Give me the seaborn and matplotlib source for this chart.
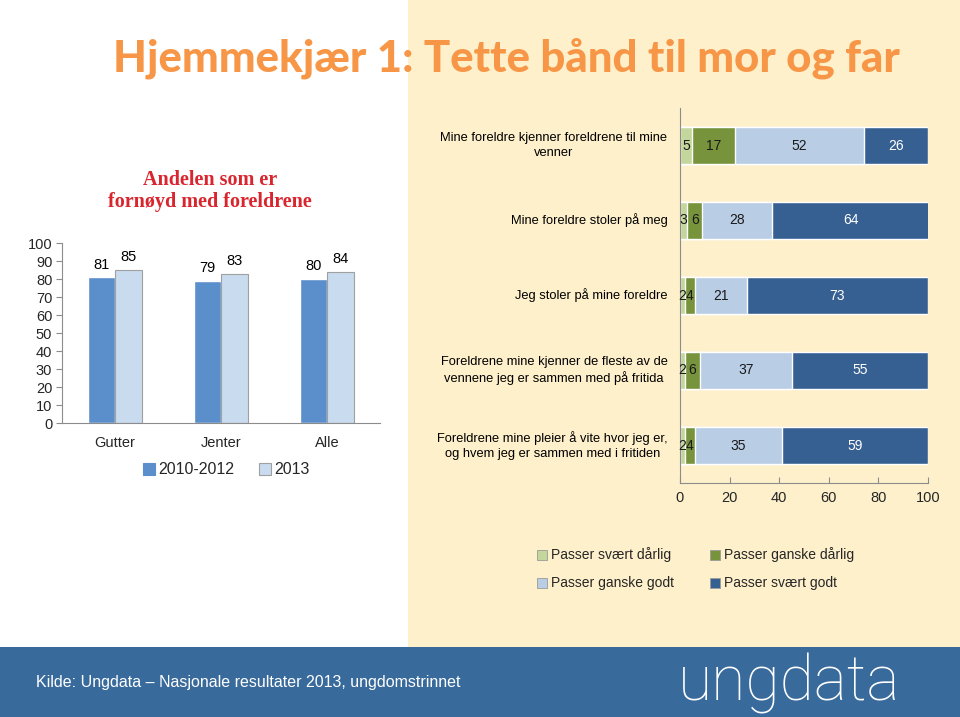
import matplotlib
matplotlib.use('Agg')
import matplotlib.pyplot as plt
import seaborn as sns
import pandas as pd
import numpy as np
from matplotlib.patches import Rectangle
from matplotlib.lines import Line2D

# ---- data ----
groups = ['Gutter', 'Jenter', 'Alle']
periods = ['2010-2012', '2013']
satisfied_2010_2012 = [81, 79, 80]
satisfied_2013 = [85, 83, 84]

statements = [
    'Mine foreldre kjenner foreldrene til mine\nvenner',
    'Mine foreldre stoler på meg',
    'Jeg stoler på mine foreldre',
    'Foreldrene mine kjenner de fleste av de\nvennene jeg er sammen med på fritida',
    'Foreldrene mine pleier å vite hvor jeg er,\nog hvem jeg er sammen med i fritiden',
]
responses = ['Passer svært dårlig', 'Passer ganske dårlig', 'Passer ganske godt', 'Passer svært godt']
svaert_darlig = [5, 3, 2, 2, 2]
ganske_darlig = [17, 6, 4, 6, 4]
ganske_godt = [52, 28, 21, 37, 35]
svaert_godt = [26, 64, 73, 55, 59]
x_ticks_right = [0, 20, 40, 60, 80, 100]
y_ticks_left = list(range(0, 101, 10))

# ---- style ----
sns.set_style('white')
plt.rcParams['font.family'] = ['Liberation Sans', 'DejaVu Sans']

W, H = 960, 717
fig = plt.figure(figsize=(9.6, 7.17), dpi=100)
fig.patch.set_facecolor('white')

CREAM = '#FEF0CB'
FOOT = '#386A9C'
fig.add_artist(Rectangle((408 / W, 70 / H), 1 - 408 / W, 1 - 70 / H, transform=fig.transFigure,
                         facecolor=CREAM, edgecolor='none', zorder=-10))
fig.add_artist(Rectangle((0, 0), 1, 70 / H, transform=fig.transFigure,
                         facecolor=FOOT, edgecolor='none', zorder=-10))

AXC = '#8C8C8C'

# ---- left chart ----
axL = fig.add_axes([62 / W, 1 - 423 / H, 318 / W, 180 / H])
axL.set_facecolor('none')
dfL = pd.DataFrame({
    'group': groups * 2,
    'period': [periods[0]] * 3 + [periods[1]] * 3,
    'value': satisfied_2010_2012 + satisfied_2013,
})
left_colors = ['#5B8FCC', '#C9DBEF']
sns.barplot(data=dfL, x='group', y='value', hue='period', order=groups, hue_order=periods,
            palette=left_colors, width=0.51, saturation=1, gap=0, legend=False, ax=axL)
for bar in axL.containers[1]:
    bar.set_edgecolor('#A0A0A0')
    bar.set_linewidth(0.8)
for cont in axL.containers:
    axL.bar_label(cont, fontsize=10.5, padding=4, color='black')
axL.set_ylim(0, 100)
axL.set_xlim(-0.5, 2.5)
axL.set_yticks(y_ticks_left)
axL.set_xlabel('')
axL.set_ylabel('')
axL.set_xticks([-0.5, 0.5, 1.5, 2.5], minor=True)
axL.tick_params(axis='x', which='major', length=0, labelsize=10.5, pad=9)
axL.tick_params(axis='x', which='minor', length=4, color=AXC, direction='out')
axL.tick_params(axis='y', length=4, color=AXC, direction='out', labelsize=10.5, pad=3, left=True)
for s in ['top', 'right']:
    axL.spines[s].set_visible(False)
for s in ['left', 'bottom']:
    axL.spines[s].set_color(AXC)
    axL.spines[s].set_linewidth(0.8)

handlesL = [Line2D([], [], marker='s', linestyle='none', markersize=8, markerfacecolor=c,
                   markeredgecolor='#A0A0A0' if i == 1 else c, markeredgewidth=0.8)
            for i, c in enumerate(left_colors)]
fig.legend(handlesL, periods, ncol=2, loc='center', bbox_to_anchor=(226 / W, 1 - 470 / H),
           frameon=False, fontsize=11.5, handlelength=0.8, handletextpad=0.2, columnspacing=1.5)

# ---- right chart ----
axR = fig.add_axes([680 / W, 1 - 483 / H, 248 / W, 375 / H])
axR.set_facecolor('none')
vals = np.array([svaert_darlig, ganske_darlig, ganske_godt, svaert_godt])
cum = np.cumsum(vals, axis=0)
right_colors = ['#C3D69B', '#77933C', '#B9CDE5', '#376092']
dfR = pd.DataFrame({'statement': statements})
for k in range(4):
    dfR[f'cum{k}'] = cum[k]
for k in reversed(range(4)):
    sns.barplot(data=dfR, x=f'cum{k}', y='statement', order=statements, orient='h',
                color=right_colors[k], width=0.5, saturation=1, ax=axR)
label_colors = ['#1A1A1A', '#1A1A1A', '#1A1A1A', 'white']
for k in range(4):
    starts = cum[k] - vals[k]
    for i in range(len(statements)):
        axR.text(starts[i] + vals[k][i] / 2, i, str(vals[k][i]), ha='center', va='center',
                 fontsize=10, color=label_colors[k])
axR.set_xlim(0, 100)
axR.set_ylim(4.5, -0.5)
axR.set_xticks(x_ticks_right)
axR.set_xlabel('')
axR.set_ylabel('')
axR.set_yticks(range(len(statements)))
axR.set_yticklabels([])
for i, s in enumerate(statements):
    axR.annotate(s, xy=(0, i), xycoords=('axes fraction', 'data'), xytext=(-9, 0),
                 textcoords='offset points', ha='right', va='center', multialignment='center',
                 linespacing=1.35, fontsize=9.3, color='black')
axR.tick_params(axis='y', length=0)
axR.tick_params(axis='x', length=4, color=AXC, direction='in', labelsize=10.5, pad=6, bottom=True)
for s in ['top', 'right']:
    axR.spines[s].set_visible(False)
for s in ['left', 'bottom']:
    axR.spines[s].set_color(AXC)
    axR.spines[s].set_linewidth(0.8)

handlesR = [Line2D([], [], marker='s', linestyle='none', markersize=7, markerfacecolor=c,
                   markeredgecolor='#9A9A9A', markeredgewidth=0.6) for c in right_colors]
order = [0, 2, 1, 3]
fig.legend([handlesR[i] for i in order], [responses[i] for i in order], ncol=2,
           loc='upper left', bbox_to_anchor=(525 / W, 1 - 535 / H), frameon=False,
           fontsize=10, handlelength=0.7, handletextpad=0.3, columnspacing=2.6, labelspacing=1.0)

# ---- texts ----
fig.text(506 / W, 1 - 58 / H, 'Hjemmekjær 1: Tette bånd til mor og far', ha='center', va='center',
         color='#F79646', fontsize=31.5, fontweight='black', family=['Lato', 'DejaVu Sans'])
fig.text(210 / W, 1 - 191 / H, 'Andelen som er\nfornøyd med foreldrene', ha='center', va='center',
         color='#D9262E', fontsize=14.5, fontweight='bold', family=['Liberation Serif', 'DejaVu Serif'],
         linespacing=1.1)
fig.text(36 / W, 1 - 683 / H, 'Kilde: Ungdata – Nasjonale resultater 2013, ungdomstrinnet',
         color='white', fontsize=11.5, va='center', family=['Liberation Sans Narrow', 'Liberation Sans'])
fig.text(678 / W, 1 - 683 / H, 'ungdata', color='white', fontsize=45, fontweight='light',
         family=['Roboto', 'DejaVu Sans'], va='center', ha='left')

fig.savefig('out.png', dpi=100)
